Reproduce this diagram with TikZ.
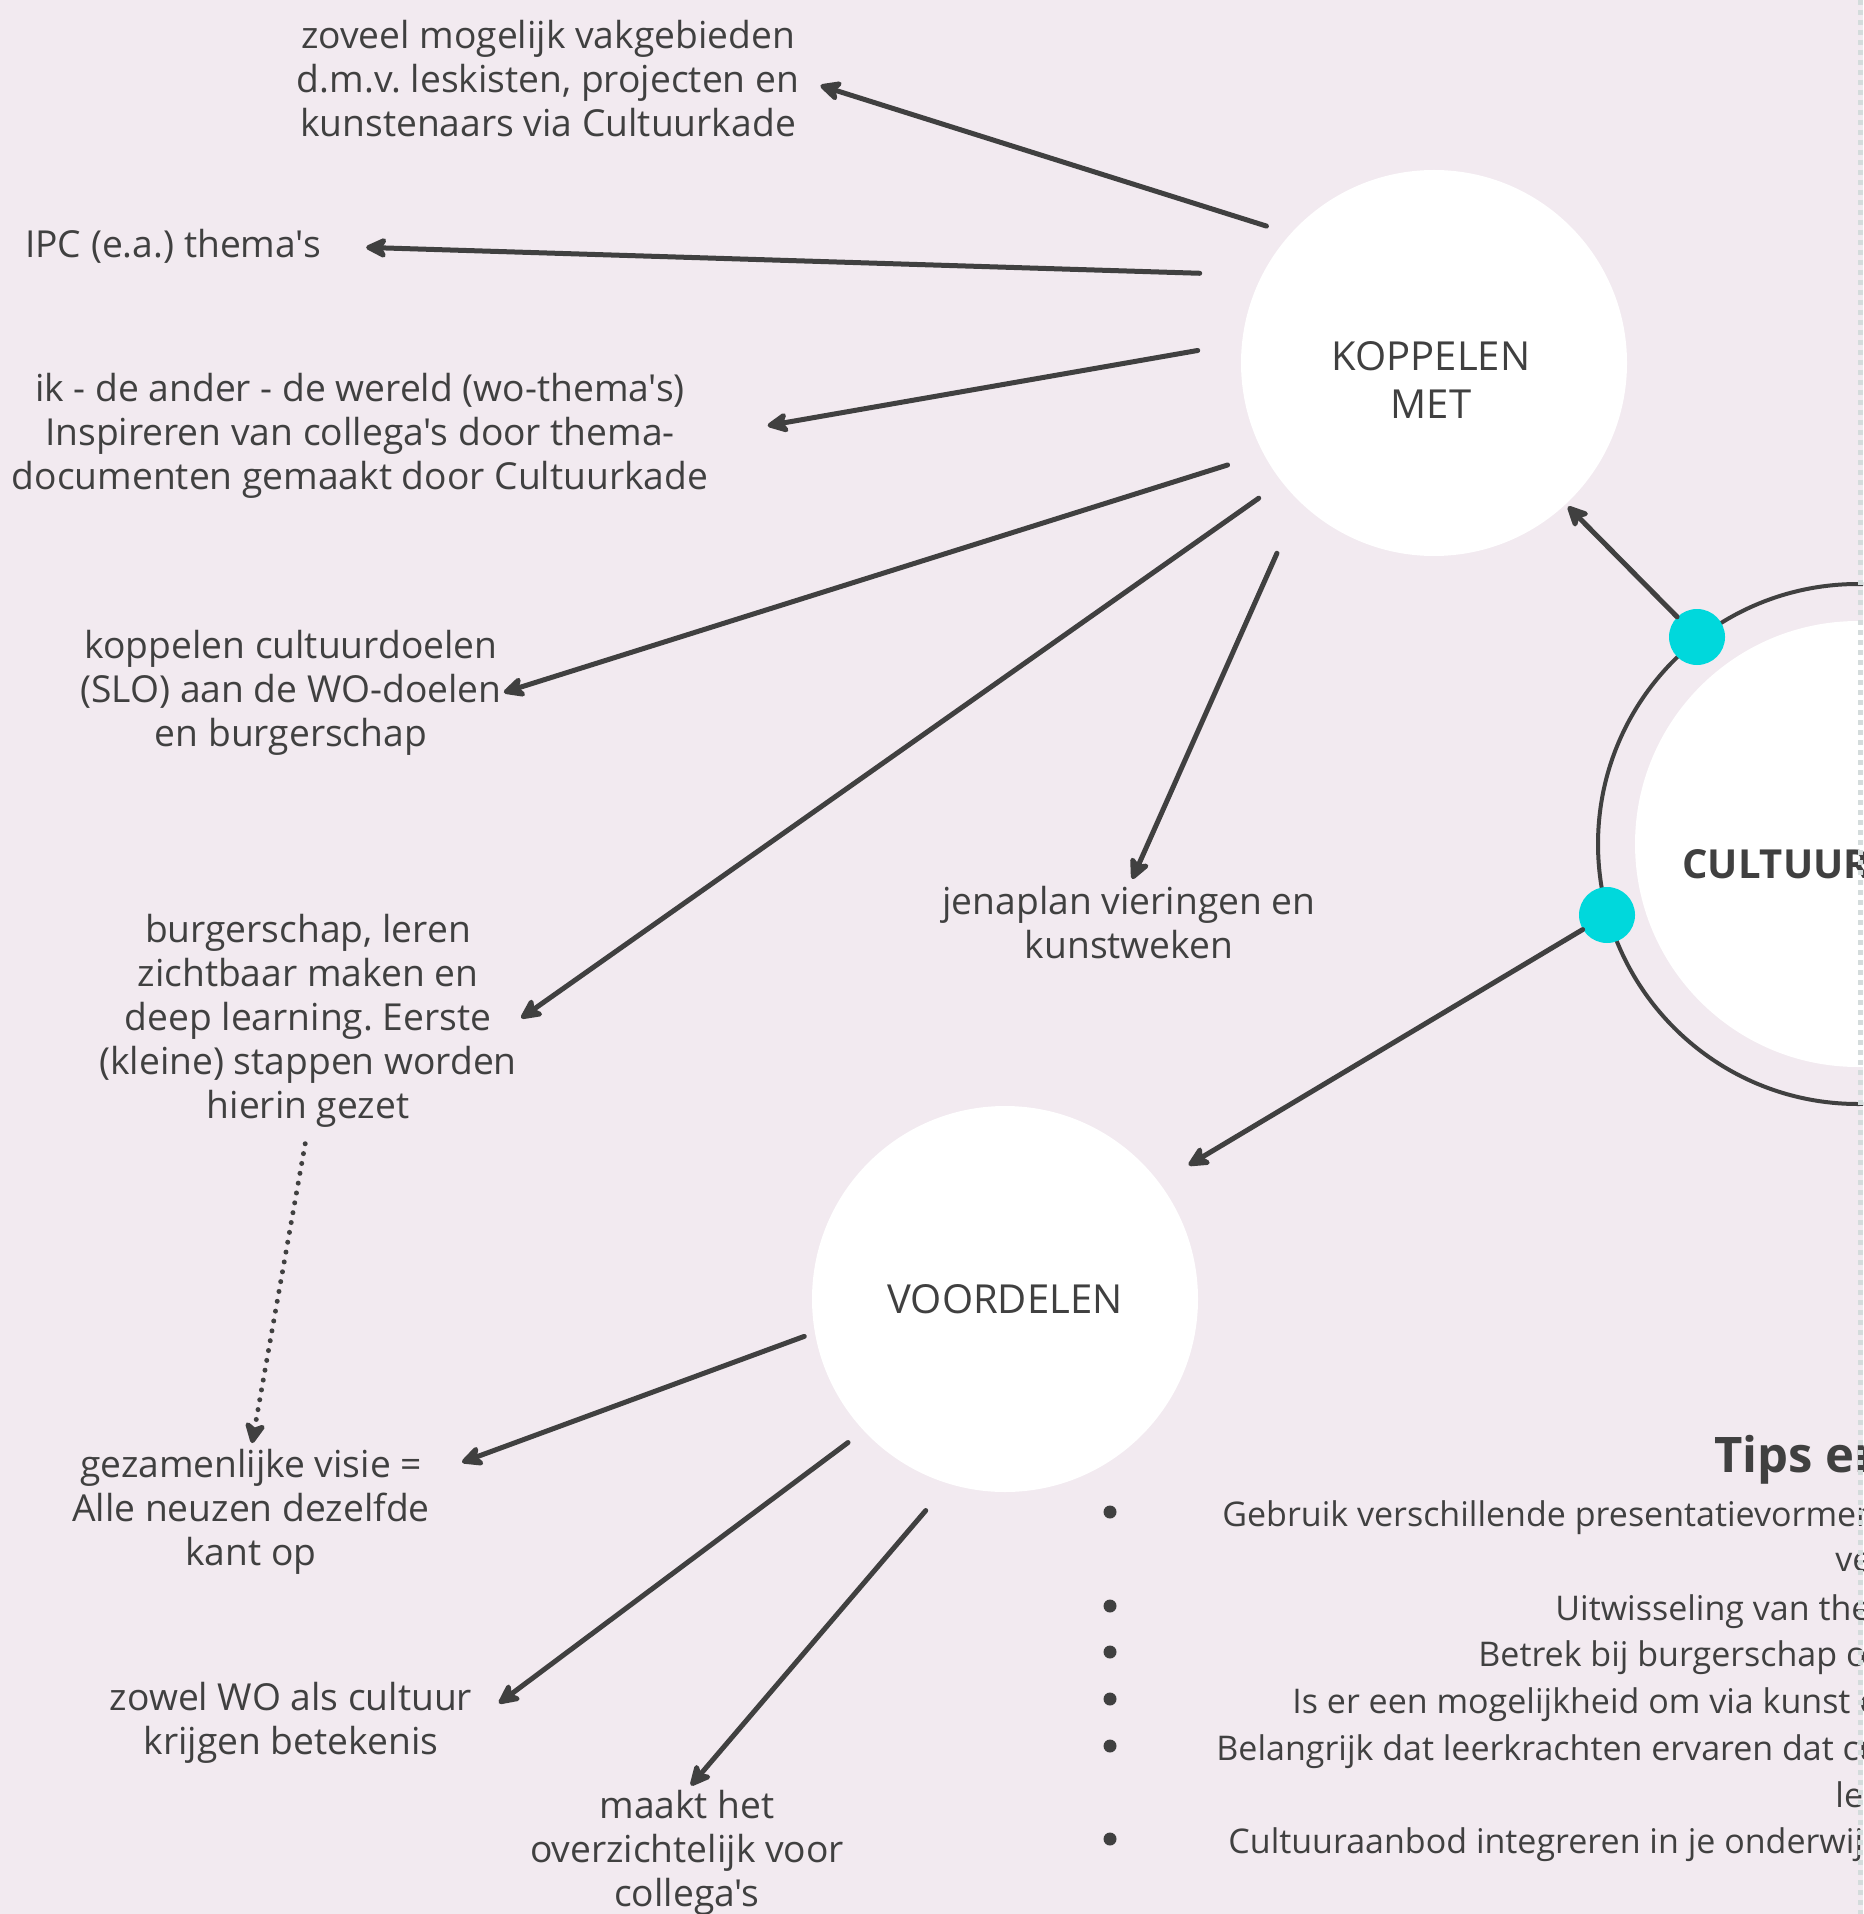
\documentclass[tikz,border=0pt]{standalone}
\usepackage{fontspec}
\setmainfont{Open Sans}[Ligatures=TeXOff]
\usetikzlibrary{arrows.meta}
\definecolor{prezibg}{RGB}{242,234,240}
\definecolor{ink}{RGB}{64,64,64}
\definecolor{turq}{RGB}{0,216,220}
\definecolor{edgegray}{RGB}{212,220,220}
\frenchspacing

\begin{document}
\begin{tikzpicture}[x=0.5pt, y=-0.5pt,
        bubble/.style={circle, fill=white, inner sep=0pt, minimum size=193pt},
        bubbletext/.style={align=center, inner sep=0pt, text=ink, font=\fontsize{20}{24}\selectfont},
        topic/.style={align=center, inner sep=0pt, text=ink, font=\fontsize{18.6}{22}\selectfont},
        tipline/.style={anchor=base west, inner sep=0pt, text=ink, font=\fontsize{17}{23.5}\selectfont},
        turqdot/.style={circle, fill=turq, inner sep=0pt, minimum size=28pt},
        link/.style={draw=ink, line width=2.5pt, line cap=round, -{Stealth[length=13pt, width=12.5pt, inset=3.5pt, round]}}]
        % Canvas
        \useasboundingbox (0,0) rectangle (1863,1914);
        \clip (0,0) rectangle (1863,1914);
        \fill[prezibg] (0,0) rectangle (1863,1914);

        % Circles
        \node[circle, draw=ink, line width=2pt, inner sep=0pt, minimum size=260pt] (ring) at (1858,844) {};
        \node[bubble, minimum size=223pt] (cultuur) at (1858,844) {};
        \node[anchor=west, inner sep=0pt, text=ink, font=\bfseries\fontsize{20}{24}\selectfont] (cultuurtxt) at (1682,864) {CULTUUR};
        \node[bubble] (koppelen) at (1434,363) {};
        \node[bubbletext] (koppelentxt) at (1431,380) {KOPPELEN\\MET};
        \node[bubble, bubbletext] (voordelen) at (1005,1299) {VOORDELEN};
        \node[turqdot] (dotkop) at (1697,637) {};
        \node[turqdot] (dotvoor) at (1607,915) {};

        % Labels
        \node[topic] (vakgebieden) at (548,79) {zoveel mogelijk vakgebieden\\d.m.v. leskisten, projecten en\\kunstenaars via Cultuurkade};
        \node[topic] (ipc) at (173,246) {IPC (e.a.) thema's};
        \node[topic] (wereld) at (360,436) {ik - de ander - de wereld (wo-thema's)\\Inspireren van collega's door thema-\\documenten gemaakt door Cultuurkade};
        \node[topic] (slodoelen) at (291,693) {koppelen cultuurdoelen\\(SLO) aan de WO-doelen\\en burgerschap};
        \node[topic] (burgerschap) at (308,1021) {burgerschap, leren\\zichtbaar maken en\\deep learning. Eerste\\(kleine) stappen worden\\hierin gezet};
        \node[topic] (jenaplan) at (1129,923) {jenaplan vieringen en\\kunstweken};
        \node[topic] (visie) at (251,1512) {gezamenlijke visie =\\Alle neuzen dezelfde\\kant op};
        \node[topic] (betekenis) at (291,1723) {zowel WO als cultuur\\krijgen betekenis};
        \node[topic] (overzicht) at (687,1853) {maakt het\\overzichtelijk voor\\collega's};

        % Tips
        \node[tipline, font=\bfseries\fontsize{24.5}{28}\selectfont] (tipstitle) at (1714,1472) {Tips en};
        \node[tipline] (tip1) at (1222,1526) {Gebruik verschillende presentatievormen};
        \node[tipline] (tip1b) at (1835,1571) {ver};
        \node[tipline] (tip2) at (1555,1620) {Uitwisseling van the};
        \node[tipline] (tip3) at (1478,1666) {Betrek bij burgerschap o};
        \node[tipline] (tip4) at (1292,1713) {Is er een mogelijkheid om via kunst e};
        \node[tipline] (tip5) at (1216,1760) {Belangrijk dat leerkrachten ervaren dat cu};
        \node[tipline] (tip5b) at (1835,1807) {le};
        \node[tipline] (tip6) at (1228,1853) {Cultuuraanbod integreren in je onderwij};
        \foreach \y in {1512,1606,1652,1699,1746,1839}
            \fill[ink] (1110,\y) circle [radius=6.5];

        % Arrows
        \draw[link, shorten <=12.5pt, shorten >=11pt] (koppelen.138.9) -- (vakgebieden.east);
        \draw[link, shorten <=31pt, shorten >=22.5pt] (koppelen.153.6) -- (ipc.east);
        \draw[link, shorten <=22.3pt, shorten >=30pt] (koppelen.174.6) -- (wereld.east);
        \draw[link, shorten <=18.7pt, shorten >=1pt] (koppelen.208.1) -- (slodoelen.east);
        \draw[link, shorten <=14pt, shorten >=2.5pt] (koppelen.218) -- (burgerschap.east);
        \draw[link, shorten <=28pt, shorten >=4pt] (koppelen.226.6) -- (jenaplan.north);
        \draw[link, shorten >=1.5pt] (dotkop) -- (koppelen.313.6);
        \draw[link, shorten >=17pt] (dotvoor) -- (voordelen.37.1);
        \draw[link, shorten <=5.5pt, shorten >=17pt] (voordelen.190.8) -- (visie.12);
        \draw[link, shorten <=9.7pt, shorten >=16.5pt] (voordelen.223.1) -- (betekenis.east);
        \draw[link, shorten <=17.5pt, shorten >=3pt] (voordelen.253.1) -- (overzicht.north);
        \draw[link, dash pattern=on 0pt off 5pt, shorten <=8pt, shorten >=3pt] (burgerschap.south) -- (visie.north);

        % Edge of the view
        \draw[edgegray, line width=2.5pt, dash pattern=on 2.5pt off 2.5pt] (1860,0) -- (1860,1914);
\end{tikzpicture}
\end{document}
